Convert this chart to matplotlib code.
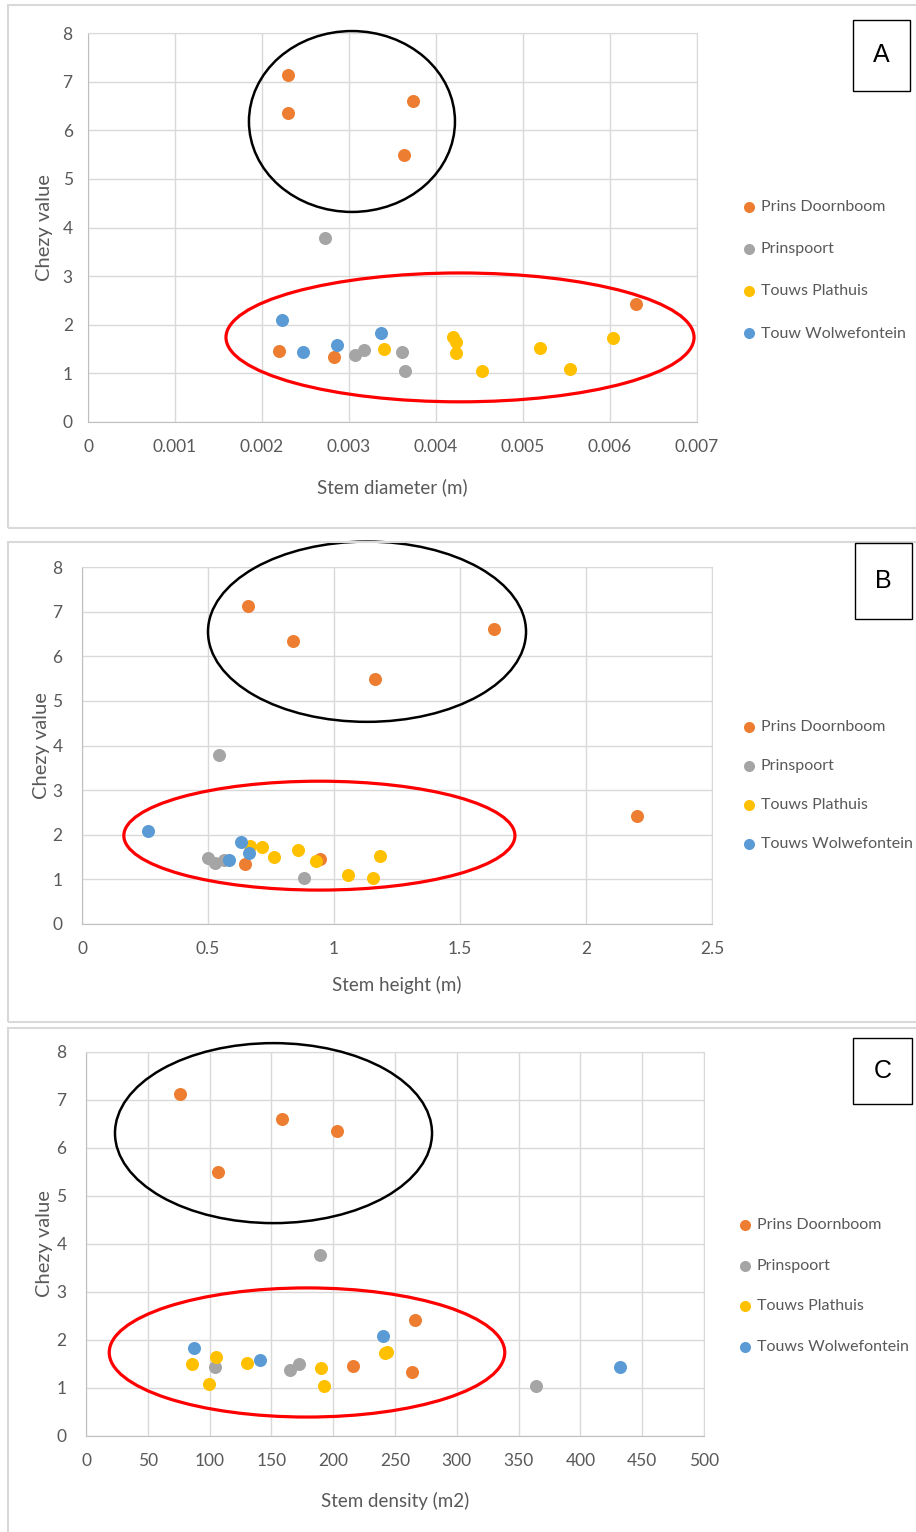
import matplotlib
matplotlib.use("Agg")
import matplotlib.pyplot as plt
from matplotlib.patches import Ellipse, Rectangle

plt.rcParams['font.family'] = ['Lato', 'DejaVu Sans']

# Chezy values per site (same for the three panels)
sites = ["Prins Doornboom", "Prinspoort", "Touws Plathuis", "Touw Wolwefontein"]
colors = ["#ED7D31", "#A5A5A5", "#FFC000", "#5B9BD5"]

chezy_pd = [7.13, 6.35, 6.60, 5.50, 2.42, 1.46, 1.34]
chezy_pp = [3.78, 1.49, 1.37, 1.44, 1.04]
chezy_tp = [1.75, 1.72, 1.65, 1.53, 1.51, 1.41, 1.09, 1.04]
chezy_tw = [2.09, 1.84, 1.58, 1.44]

# stem diameter (m)
diam_pd = [0.0023, 0.0023, 0.00373, 0.00363, 0.0063, 0.00219, 0.00283]
diam_pp = [0.00272, 0.00317, 0.00307, 0.00361, 0.00364]
diam_tp = [0.0042, 0.00603, 0.00423, 0.0052, 0.0034, 0.00423, 0.00554, 0.00453]
diam_tw = [0.00223, 0.00337, 0.00286, 0.00247]

# stem height (m)
height_pd = [0.659, 0.837, 1.635, 1.163, 2.202, 0.946, 0.645]
height_pp = [0.544, 0.500, 0.528, 0.563, 0.880]
height_tp = [0.666, 0.715, 0.856, 1.181, 0.760, 0.928, 1.054, 1.155]
height_tw = [0.263, 0.632, 0.661, 0.584]

# stem density (m2)
dens_pd = [76, 203, 158.6, 106.8, 266, 216.3, 264]
dens_pp = [189.2, 172.4, 165.2, 104.3, 364.2]
dens_tp = [243.5, 242, 105.1, 130, 86.1, 190, 99.9, 192.7]
dens_tw = [240.3, 87.5, 141, 432.4]

diam_ticks = [0, 0.001, 0.002, 0.003, 0.004, 0.005, 0.006, 0.007]
diam_labels = ["0", "0.001", "0.002", "0.003", "0.004", "0.005", "0.006", "0.007"]
height_ticks = [0, 0.5, 1, 1.5, 2, 2.5]
height_labels = ["0", "0.5", "1", "1.5", "2", "2.5"]
dens_ticks = list(range(0, 501, 50))
dens_labels = [str(t) for t in dens_ticks]

W, H = 916, 1532
fig = plt.figure(figsize=(W / 100, H / 100), dpi=100)
fig.patch.set_facecolor("white")

TXT = "#595959"


def px_box(x0, y0, x1, y1):
    return [x0 / W, 1 - y1 / H, (x1 - x0) / W, (y1 - y0) / H]


def panel(box, xs, xticks, xlabels, xlabel, letter, letter_box, black_ell, red_ell,
          names, ylab_x, leg_xy, leg_space, ypad):
    ax = fig.add_axes(px_box(*box))
    for x, y, c, n in zip(xs, [chezy_pd, chezy_pp, chezy_tp, chezy_tw], colors, names):
        ax.scatter(x, y, s=88, color=c, label=n, zorder=3, linewidths=0)
    ax.set_xlim(xticks[0], xticks[-1])
    ax.set_ylim(0, 8)
    ax.set_xticks(xticks)
    ax.set_xticklabels(xlabels)
    ax.set_yticks(range(0, 9))
    ax.tick_params(length=0, labelsize=12.5, colors=TXT)
    ax.tick_params(axis="x", pad=12)
    ax.tick_params(axis="y", pad=ypad)
    ax.grid(True, color="#D9D9D9", lw=1)
    ax.set_axisbelow(True)
    for s in ["top", "right"]:
        ax.spines[s].set_color("#D9D9D9")
    for s in ["left", "bottom"]:
        ax.spines[s].set_color("#BFBFBF")
    ax.set_xlabel(xlabel, fontsize=13.5, color=TXT)
    ax.set_ylabel("Chezy value", fontsize=14.5, color=TXT)
    ax.xaxis.set_label_coords(0.5, -0.145)
    ax.yaxis.set_label_coords(ylab_x, 0.5)

    (cx, cy, w, h) = black_ell
    ax.add_patch(Ellipse((cx, cy), w, h, fill=False, ec="black", lw=1.8, zorder=4, clip_on=False))
    (cx, cy, w, h) = red_ell
    ax.add_patch(Ellipse((cx, cy), w, h, fill=False, ec="#FF0000", lw=2.3, zorder=4, clip_on=False))

    leg = ax.legend(loc="upper left", bbox_to_anchor=(leg_xy[0] / W, 1 - leg_xy[1] / H),
                    bbox_transform=fig.transFigure, frameon=False, fontsize=11.5,
                    handlelength=0.65, handletextpad=0.4, borderpad=0, borderaxespad=0,
                    labelspacing=leg_space, markerscale=0.85)
    for t in leg.get_texts():
        t.set_color(TXT)

    x0, y0, x1, y1 = letter_box
    fig.add_artist(Rectangle((x0 / W, 1 - y1 / H), (x1 - x0) / W, (y1 - y0) / H,
                             transform=fig.transFigure, fill=False, ec="black", lw=1))
    fig.text((x0 + x1) / 2 / W, 1 - (y0 + y1) / 2 / H, letter, ha="center", va="center",
             fontsize=18, family="Liberation Sans")
    return ax


# outer borders of the three charts
for (y0, y1) in [(5, 528), (542, 1022), (1028, 1545)]:
    fig.add_artist(Rectangle((8 / W, 1 - y1 / H), (W + 10 - 8) / W, (y1 - y0) / H,
                             transform=fig.transFigure, fill=False, ec="#D9D9D9", lw=1.5))

panel((88, 33, 697, 422), [diam_pd, diam_pp, diam_tp, diam_tw], diam_ticks, diam_labels,
      "Stem diameter (m)", "A", (853, 20, 910, 91),
      (0.003034, 6.18, 0.002368, 3.72), (0.004276, 1.74, 0.00538, 2.65),
      sites, -0.0575, (744, 200), 1.75, 11)

panel((82, 567, 712, 924), [height_pd, height_pp, height_tp, height_tw], height_ticks, height_labels,
      "Stem height (m)", "B", (855, 543, 912, 619),
      (1.131, 6.55, 1.262, 4.04), (0.942, 1.98, 1.552, 2.44),
      ["Prins Doornboom", "Prinspoort", "Touws Plathuis", "Touws Wolwefontein"],
      -0.0508, (744, 720), 1.55, 14)

panel((86, 1052, 704, 1436), [dens_pd, dens_pp, dens_tp, dens_tw], dens_ticks, dens_labels,
      "Stem density (m2)", "C", (853, 1038, 912, 1104),
      (151.7, 6.31, 256.5, 3.75), (178.8, 1.74, 320, 2.69),
      ["Prins Doornboom", "Prinspoort", "Touws Plathuis", "Touws Wolwefontein"],
      -0.0534, (740, 1218), 1.65, 14)

fig.savefig("out.png", dpi=100)
